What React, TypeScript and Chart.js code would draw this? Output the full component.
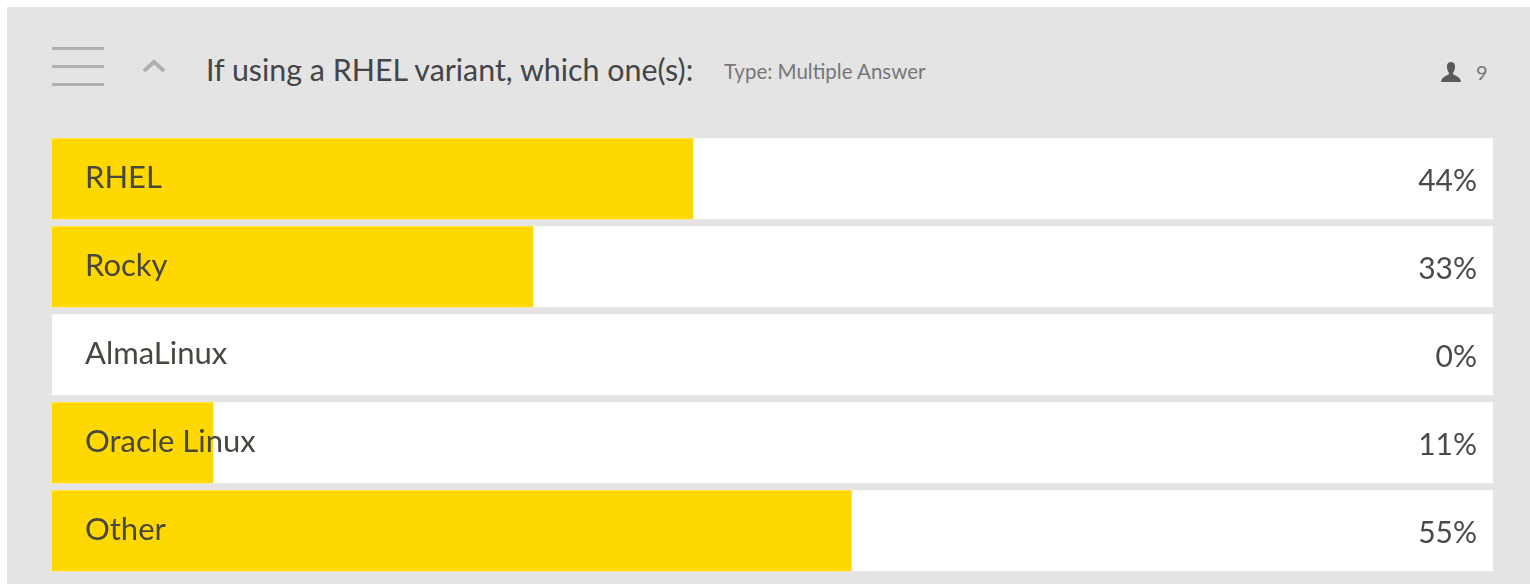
import React, { useEffect, useRef } from "react";
import { Chart, registerables } from "chart.js";

Chart.register(...registerables);

const categories = ["RHEL", "Rocky", "AlmaLinux", "Oracle Linux", "Other"];
const shareValues = [44.5, 33.4, 0, 11.2, 55.5];
const shareLabels = ["44%", "33%", "0%", "11%", "55%"];
const trackValues = [100, 100, 100, 100, 100];
const title = "If using a RHEL variant, which one(s):";
const typeLabel = "Type: Multiple Answer";
const respondents = "9";

const FONT = "Lato, 'Open Sans', sans-serif";

const rowLabelsPlugin = {
  id: "rowLabels",
  afterDatasetsDraw(chart: any) {
    const { ctx, scales } = chart;
    ctx.save();
    ctx.textBaseline = "middle";
    ctx.font = `400 31px ${FONT}`;
    ctx.textAlign = "left";
    ctx.fillStyle = "#47473f";
    categories.forEach((label, i) => {
      ctx.fillText(label, scales.x.getPixelForValue(0) + 33, scales.y.getPixelForValue(i) - 0.5);
    });
    ctx.font = `400 30px ${FONT}`;
    ctx.fillStyle = "#4a4a4c";
    ctx.textAlign = "right";
    shareLabels.forEach((label, i) => {
      ctx.fillText(label, scales.x.getPixelForValue(100) - 16, scales.y.getPixelForValue(i) + 2.5);
    });
    ctx.restore();
  },
};

export default function App() {
  const ref = useRef<HTMLCanvasElement>(null);
  useEffect(() => {
    const chart = new Chart(ref.current!, {
      type: "bar",
      data: {
        labels: categories,
        datasets: [
          {
            label: "Share",
            data: shareValues,
            backgroundColor: "#ffd800",
            order: 1,
            grouped: false,
            categoryPercentage: 1,
            barPercentage: 81 / 88,
          },
          {
            label: "Track",
            data: trackValues,
            backgroundColor: "#ffffff",
            order: 2,
            grouped: false,
            categoryPercentage: 1,
            barPercentage: 81 / 88,
          },
        ],
      },
      options: {
        indexAxis: "y",
        responsive: false,
        animation: false,
        events: [],
        layout: { padding: { left: 52, right: 37, top: 134.75, bottom: 9.25 } },
        plugins: { legend: { display: false }, title: { display: false }, tooltip: { enabled: false } },
        scales: {
          x: { type: "linear", min: 0, max: 100, display: false },
          y: { type: "category", display: false },
        },
      },
      plugins: [rowLabelsPlugin],
    } as any);
    return () => chart.destroy();
  }, []);

  const text = (extra: React.CSSProperties): React.CSSProperties => ({
    position: "absolute",
    fontFamily: FONT,
    whiteSpace: "nowrap",
    lineHeight: 1,
    ...extra,
  });
  const bar = (top: number): React.CSSProperties => ({
    position: "absolute",
    left: 52,
    top,
    width: 52,
    height: 3,
    background: "#b0b0b0",
  });

  return (
    <div style={{ position: "fixed", inset: 0, background: "#ffffff", overflow: "hidden" }}>
      <div style={{ position: "absolute", left: 7, top: 7, width: 1523, height: 577, background: "#e4e4e4" }} />
      <div style={bar(47)} />
      <div style={bar(65)} />
      <div style={bar(83)} />
      <svg style={{ position: "absolute", left: 140, top: 56 }} width="28" height="20" viewBox="0 0 28 20">
        <path d="M4 15 L14 6 L24 15" fill="none" stroke="#b0b0b0" strokeWidth="4" />
      </svg>
      <div style={text({ left: 206, top: 54, fontSize: 30.4, color: "#454547" })}>{title}</div>
      <div style={text({ left: 724, top: 61, fontSize: 20.5, color: "#77777a" })}>{typeLabel}</div>
      <svg style={{ position: "absolute", left: 1440, top: 61 }} width="22" height="22" viewBox="0 0 22 22">
        <path
          d="M11 1 C7.5 1 6.8 4 7 6.5 C7.2 9 8 10.5 8.8 11.5 L8.8 13.5 C6 15 1.5 16 1 21 L21 21 C20.5 16 16 15 13.2 13.5 L13.2 11.5 C14 10.5 14.8 9 15 6.5 C15.2 4 14.5 1 11 1 Z"
          fill="#5a5a5c"
        />
      </svg>
      <div style={text({ left: 1476, top: 62, fontSize: 20, color: "#77777a" })}>{respondents}</div>
      <canvas ref={ref} width={1530} height={584} style={{ position: "absolute", left: 0, top: 0, width: 1530, height: 584 }} />
    </div>
  );
}
